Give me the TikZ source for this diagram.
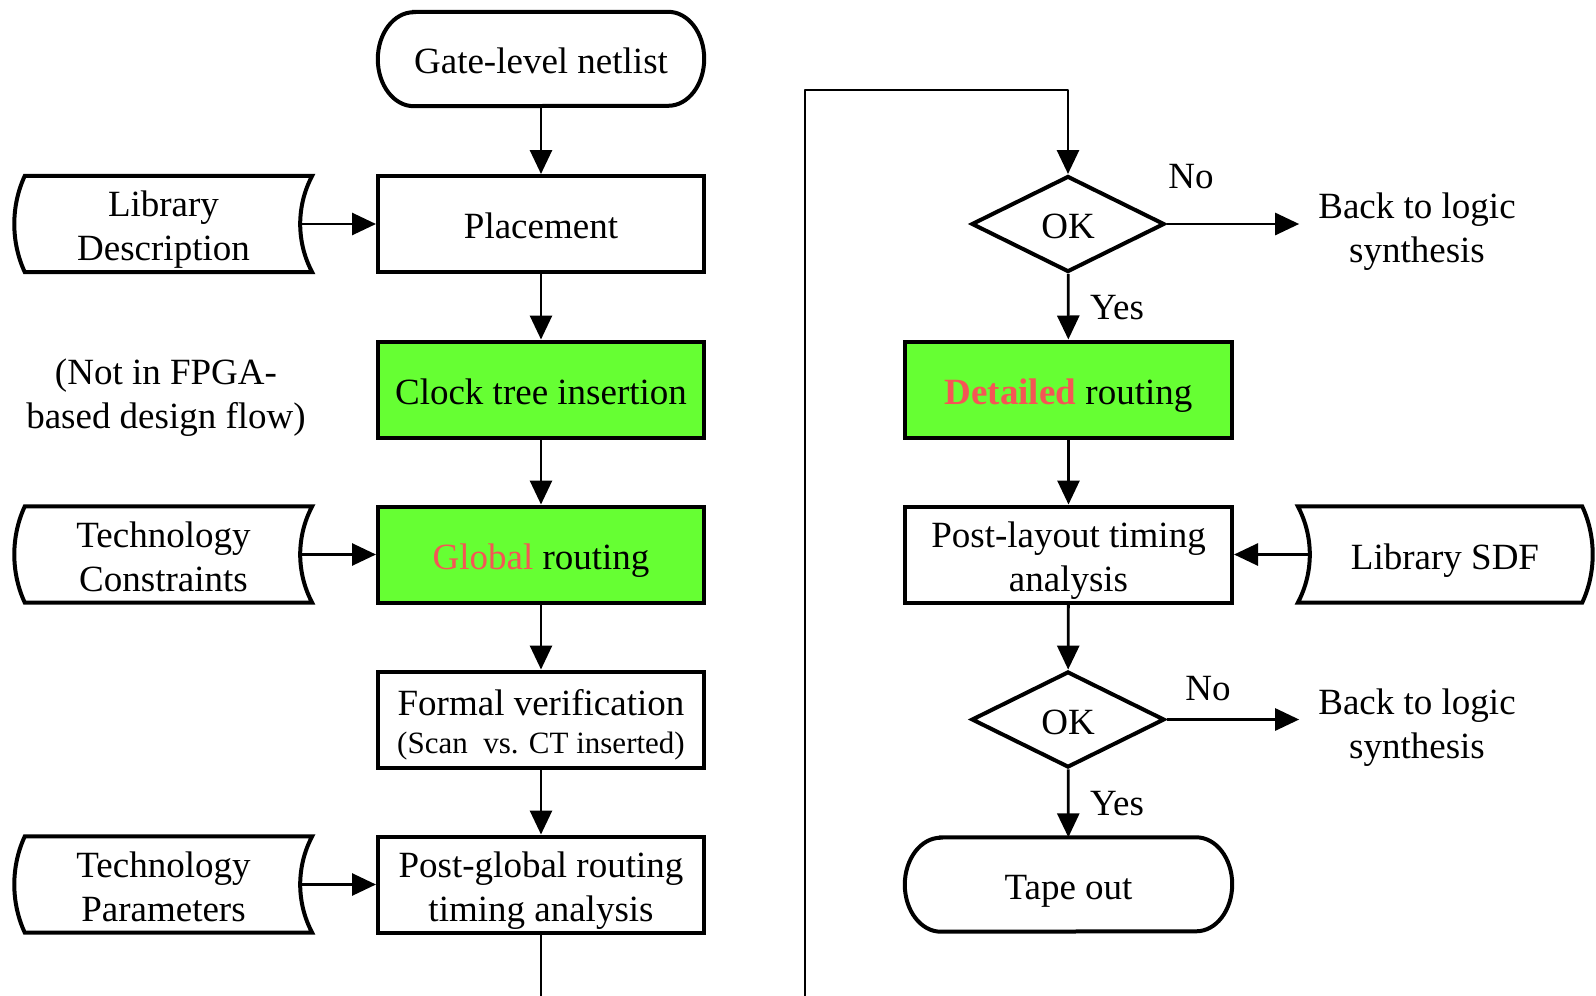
\documentclass[tikz,border=0pt]{standalone}
\usepackage{fontspec}
\setmainfont{Liberation Serif}
\usetikzlibrary{arrows.meta,shapes.geometric}

\definecolor{stepgreen}{RGB}{102,255,51}
\definecolor{hilite}{RGB}{245,85,85}

% one text line with fixed line metrics, so every line sits at the same height
\newcommand\tline[1]{\rule[-1pt]{0pt}{31pt}\smash{#1}}

\tikzset{
  base/.style={font=\fontsize{37}{44}\selectfont, align=center, inner sep=0pt},
  procbox/.style={base, draw, line width=4pt, minimum width=326pt, minimum height=96pt},
  greenbox/.style={procbox, fill=stepgreen},
  term/.style={base, minimum width=326pt, minimum height=94pt},
  store/.style={base, minimum width=297pt, minimum height=96pt},
  decision/.style={base, diamond, draw, line width=4pt, minimum width=193pt, minimum height=96pt},
  lbl/.style={base},
  flow/.style={line width=2.8pt, -{Triangle[length=24pt,width=22pt]}},
  plain/.style={line width=2.8pt},
  outline/.style={line width=4pt},
}

% data-store outline bowing to the left (convex left side, concave right side)
\newcommand\storeleft[1]{%
  \draw[outline] ([xshift=10pt]#1.north west) -- (#1.north east)
    .. controls ([xshift=-16pt,yshift=-30pt]#1.north east) and ([xshift=-16pt,yshift=30pt]#1.south east) .. (#1.south east)
    -- ([xshift=10pt]#1.south west)
    .. controls ([xshift=-4pt,yshift=30pt]#1.south west) and ([xshift=-4pt,yshift=-30pt]#1.north west) .. ([xshift=10pt]#1.north west)
    -- cycle;}

% data-store outline bowing to the right (concave left side, convex right side)
\newcommand\storeright[1]{%
  \draw[outline] (#1.north west) -- ([xshift=-10pt]#1.north east)
    .. controls ([xshift=4pt,yshift=-30pt]#1.north east) and ([xshift=4pt,yshift=30pt]#1.south east) .. ([xshift=-10pt]#1.south east)
    -- (#1.south west)
    .. controls ([xshift=16pt,yshift=30pt]#1.south west) and ([xshift=16pt,yshift=-30pt]#1.north west) .. (#1.north west)
    -- cycle;}

% start/end terminal with elliptical ends
\newcommand\terminalshape[1]{%
  \draw[outline] ([xshift=36pt]#1.north west) -- ([xshift=-36pt]#1.north east)
    arc[start angle=90, end angle=-90, x radius=36pt, y radius=47pt]
    -- ([xshift=36pt]#1.south west)
    arc[start angle=270, end angle=90, x radius=36pt, y radius=47pt]
    -- cycle;}

\begin{document}
\begin{tikzpicture}[x=1pt, y=-1pt]
\useasboundingbox (0,0) rectangle (1596,996);

% ---------- left column ----------
\node[term]     (gate)    at (541,59)    {\tline{Gate-level netlist}};
\node[procbox]  (place)   at (541,224)   {\tline{Placement}};
\node[greenbox] (clock)   at (541,389.5) {\tline{Clock tree insertion}};
\node[greenbox] (global)  at (541,554.5) {\tline{\textcolor{hilite}{Global} routing}};
\node[procbox]  (formal)  at (541,719.5) {\tline{Formal verification}\\[-6pt]\tline{\fontsize{31}{36}\selectfont (Scan\ \ vs. CT inserted)}};
\node[procbox]  (pglobal) at (541,884.5) {\tline{Post-global routing}\\\tline{timing analysis}};
\terminalshape{gate}

\node[store] (libdesc) at (163.5,224)   {\tline{Library}\\\tline{Description}};
\node[lbl]   (fpga)    at (166,392)     {\tline{(Not in FPGA-}\\\tline{based design flow)}};
\node[store] (techcon) at (163.5,554.5) {\tline{Technology}\\\tline{Constraints}};
\node[store] (techpar) at (163.5,884.5) {\tline{Technology}\\\tline{Parameters}};
\storeleft{libdesc}
\storeleft{techcon}
\storeleft{techpar}

\coordinate (leftend) at (541,996);

\draw[flow] (gate) -- (place);
\draw[flow] (place) -- (clock);
\draw[flow] (clock) -- (global);
\draw[flow] (global) -- (formal);
\draw[flow] (formal) -- (pglobal);
\draw[plain] (pglobal) -- (leftend);

\draw[flow] ([xshift=-12pt]libdesc.east) -- (place.west);
\draw[flow] ([xshift=-12pt]techcon.east) -- (global.west);
\draw[flow] ([xshift=-12pt]techpar.east) -- (pglobal.west);

% ---------- right column ----------
\node[decision] (ok1)     at (1068,224)   {\tline{OK}};
\node[greenbox, minimum width=327pt] (detail)  at (1068.5,389.5) {\tline{\textcolor{hilite}{\bfseries Detailed} routing}};
\node[procbox,  minimum width=327pt] (playout) at (1068.5,554.5) {\tline{Post-layout timing}\\\tline{analysis}};
\node[decision] (ok2)     at (1068,719.5) {\tline{OK}};
\node[term, minimum width=327pt] (tape) at (1068.5,884.5) {\tline{Tape out}};
\terminalshape{tape}

\node[store, minimum width=294pt] (sdf) at (1445,554.5) {\tline{Library SDF}};
\storeright{sdf}

\node[lbl, inner xsep=19pt] (back1) at (1417,226) {\tline{Back to logic}\\\tline{synthesis}};
\node[lbl, inner xsep=19pt] (back2) at (1417,722) {\tline{Back to logic}\\\tline{synthesis}};

\node[lbl] (no1)  at (1191,177) {No};
\node[lbl] (yes1) at (1117,308) {Yes};
\node[lbl] (no2)  at (1208,689) {No};
\node[lbl] (yes2) at (1117,804) {Yes};

\coordinate (loopstart) at (805,996);

\draw[flow, line join=round] (loopstart) |- ([yshift=84pt]ok1.north) -- (ok1.north);
\draw[flow] (ok1) -- (detail);
\draw[flow] (detail) -- (playout);
\draw[flow] (playout) -- (ok2);
\draw[flow] (ok2) -- (tape);
\draw[flow] ([xshift=12pt]sdf.west) -- (playout.east);
\draw[flow] (ok1.east) -- (ok1.east -| back1.west);
\draw[flow] (ok2.east) -- (ok2.east -| back2.west);
\end{tikzpicture}
\end{document}
